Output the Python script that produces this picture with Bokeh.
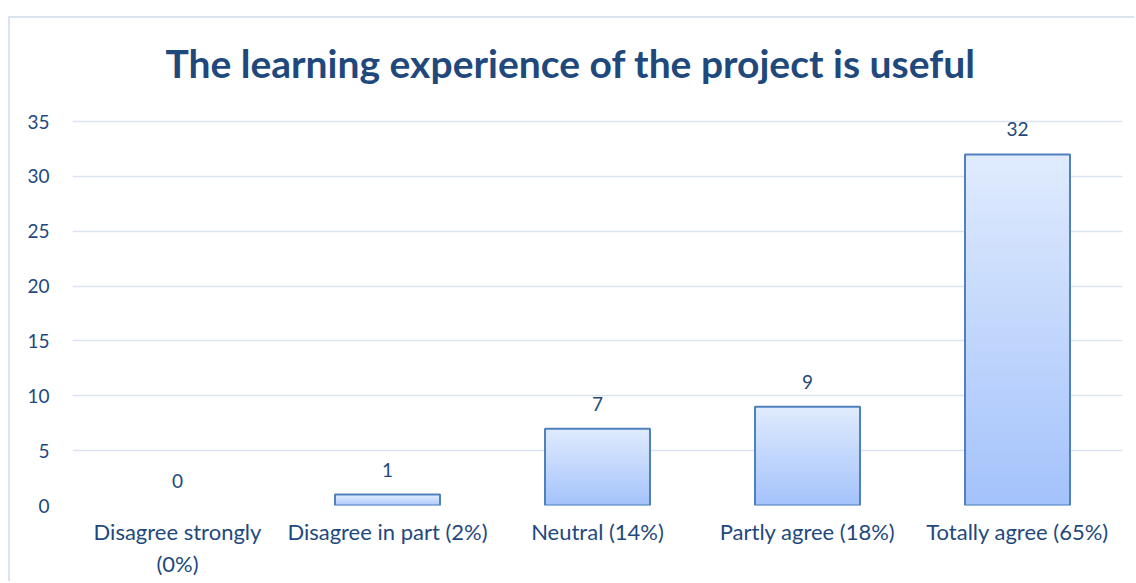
import numpy as np
from bokeh.plotting import figure
from bokeh.layouts import column, row
from bokeh.models import FactorRange, Range1d, FixedTicker, Spacer, Label
from bokeh.embed import file_html
from bokeh.resources import INLINE
from bokeh.core.properties import value

# ---- data ----
title_text = "The learning experience of the project is useful"
categories = ["Disagree strongly\n(0%)", "Disagree in part (2%)", "Neutral (14%)",
              "Partly agree (18%)", "Totally agree (65%)"]
counts = [0, 1, 7, 9, 32]
y_ticks = [0, 5, 10, 15, 20, 25, 30, 35]

TEXT = "#1F497D"
GRID = "#D9E4F3"
FONT = "Lato"

# layout geometry (pixels): frame spans whole canvas height above the x axis,
# so the title can live inside the frame; y range is stretched so that the
# top tick sits 103px below the canvas top.
H, BOTTOM, TOP_GAP = 565, 78, 103
frame_h = H - BOTTOM
y_end = y_ticks[-1] * frame_h / (frame_h - TOP_GAP)

p = figure(x_range=FactorRange(*categories), y_range=Range1d(0, y_end),
           width=1126, height=H, output_backend="svg", toolbar_location=None,
           min_border_left=62, min_border_right=14, min_border_top=0, min_border_bottom=BOTTOM)
p.styles = {"border-left": "2px solid #DAE4F1", "border-top": "2px solid #DAE4F1"}
p.outline_line_color = None
p.background_fill_color = "white"
p.border_fill_color = "white"

# title (screen units relative to the frame's bottom-left)
p.add_layout(Label(x=498, y=frame_h - 44, x_units="screen", y_units="screen", text=title_text,
                   text_align="center", text_baseline="alphabetic",
                   text_font=FONT, text_font_size="39px", text_font_style="bold",
                   text_color=TEXT))

# gradient bars built from slices of each count
N = 60
top_rgb = np.array([0xE0, 0xEB, 0xFD])
bot_rgb = np.array([0xA3, 0xC2, 0xFB])
xs, bots, tops, cols = [], [], [], []
for c, v in zip(categories, counts):
    if v <= 0:
        continue
    for k in range(N):
        f = (k + 0.5) / N
        rgb = (bot_rgb + (top_rgb - bot_rgb) * f).round().astype(int)
        xs.append(c)
        bots.append(v * k / N)
        tops.append(min(v, v * (k + 2) / N))
        cols.append("#%02X%02X%02X" % tuple(rgb))
p.vbar(x=xs, bottom=bots, top=tops, width=0.5, fill_color=cols, line_color=None)

nz_c = [c for c, v in zip(categories, counts) if v > 0]
nz_v = [v for v in counts if v > 0]
p.vbar(x=nz_c, top=nz_v, bottom=0, width=0.5, fill_color=None,
       line_color="#4F81BD", line_width=2)

p.text(x=categories, y=counts, text=[str(v) for v in counts],
       text_align="center", text_baseline="alphabetic", y_offset=-25,
       text_font=value(FONT), text_font_size="19px", text_color=TEXT)

p.xgrid.grid_line_color = None
p.ygrid.grid_line_color = GRID
p.ygrid.grid_line_width = 1.3
p.yaxis.ticker = FixedTicker(ticks=y_ticks)

for ax in (p.xaxis, p.yaxis):
    ax.axis_line_color = None
    ax.major_tick_line_color = None
    ax.minor_tick_line_color = None
    ax.major_label_text_font = FONT
    ax.major_label_text_color = TEXT
p.yaxis.major_label_text_font_size = "19px"
p.xaxis.major_label_text_font_size = "22px"
p.xaxis.major_label_standoff = 6
p.yaxis.major_label_standoff = 17

layout = column(Spacer(height=16, width=1136), row(Spacer(width=8, height=567), p))
open("out.html", "w").write(file_html(layout, INLINE))
